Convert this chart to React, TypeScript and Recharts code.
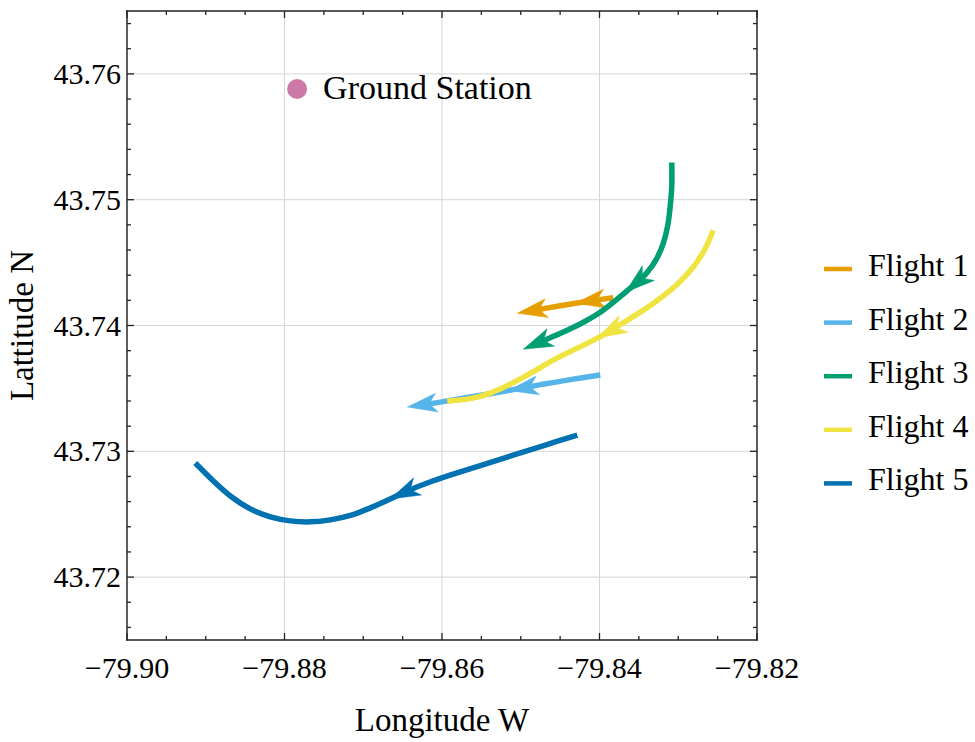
import React from 'react';
import { ScatterChart, Scatter, XAxis, YAxis, CartesianGrid } from 'recharts';

const W = 975;
const H = 742;
const FONT = '"Liberation Serif", "Times New Roman", serif';
const FRAME = '#222222';

// ---------- data ----------
const flightNames = ['Flight 1', 'Flight 2', 'Flight 3', 'Flight 4', 'Flight 5'];
const flightColors = ['#E69F00', '#56B4E9', '#009E73', '#F0E442', '#0072B2'];

const flight1 = [
  { x: -79.83825, y: 43.74221 },
  { x: -79.84053, y: 43.74201 },
  { x: -79.84307, y: 43.74177 },
  { x: -79.84536, y: 43.74153 },
  { x: -79.8479, y: 43.74125 },
  { x: -79.85044, y: 43.74098 },
];
const flight1Arrows = [2, 5];

const flight2 = [
  { x: -79.8399, y: 43.73606 },
  { x: -79.84409, y: 43.73566 },
  { x: -79.84777, y: 43.73526 },
  { x: -79.85158, y: 43.73483 },
  { x: -79.85603, y: 43.73435 },
  { x: -79.86022, y: 43.73391 },
  { x: -79.86441, y: 43.73352 },
];
const flight2Arrows = [3, 6];

const flight3 = [
  { x: -79.83082, y: 43.75296 },
  { x: -79.83082, y: 43.75113 },
  { x: -79.83101, y: 43.74955 },
  { x: -79.83133, y: 43.74796 },
  { x: -79.8319, y: 43.74653 },
  { x: -79.83279, y: 43.74526 },
  { x: -79.83393, y: 43.74423 },
  { x: -79.8352, y: 43.74344 },
  { x: -79.83672, y: 43.74264 },
  { x: -79.83825, y: 43.74185 },
  { x: -79.8399, y: 43.74106 },
  { x: -79.84193, y: 43.7403 },
  { x: -79.84409, y: 43.73963 },
  { x: -79.84625, y: 43.73903 },
  { x: -79.84803, y: 43.73856 },
  { x: -79.84968, y: 43.73812 },
];
const flight3Arrows = [8, 15];

const flight4 = [
  { x: -79.82555, y: 43.74756 },
  { x: -79.82669, y: 43.74598 },
  { x: -79.82822, y: 43.74455 },
  { x: -79.83012, y: 43.74328 },
  { x: -79.83228, y: 43.74217 },
  { x: -79.83482, y: 43.74106 },
  { x: -79.83749, y: 43.74002 },
  { x: -79.84028, y: 43.73899 },
  { x: -79.84307, y: 43.73812 },
  { x: -79.84587, y: 43.73725 },
  { x: -79.84853, y: 43.73629 },
  { x: -79.8512, y: 43.73538 },
  { x: -79.85387, y: 43.73463 },
  { x: -79.85641, y: 43.73419 },
  { x: -79.85933, y: 43.73399 },
];
const flight4Arrows = [7];

const flight5 = [
  { x: -79.84282, y: 43.73129 },
  { x: -79.84688, y: 43.7305 },
  { x: -79.85107, y: 43.72967 },
  { x: -79.85514, y: 43.72887 },
  { x: -79.85869, y: 43.72816 },
  { x: -79.86187, y: 43.72748 },
  { x: -79.86441, y: 43.72685 },
  { x: -79.86657, y: 43.72621 },
  { x: -79.8691, y: 43.7255 },
  { x: -79.87164, y: 43.7249 },
  { x: -79.87418, y: 43.72455 },
  { x: -79.87672, y: 43.72439 },
  { x: -79.87926, y: 43.72447 },
  { x: -79.8818, y: 43.72479 },
  { x: -79.88434, y: 43.72542 },
  { x: -79.88688, y: 43.72645 },
  { x: -79.88917, y: 43.72772 },
  { x: -79.89133, y: 43.72907 },
];
const flight5Arrows = [7];

const groundStation = [{ x: -79.8784, y: 43.7588 }];
const groundStationLabel = 'Ground Station';
const groundStationColor = '#CC79A7';

const xDomain = [-79.9, -79.82];
const yDomain = [43.715, 43.765];
const xMajorTicks = [-79.9, -79.88, -79.86, -79.84, -79.82];
const xMinorTicks = [
  -79.895, -79.89, -79.885, -79.875, -79.87, -79.865, -79.855, -79.85, -79.845, -79.835, -79.83,
  -79.825,
];
const yMajorTicks = [43.72, 43.73, 43.74, 43.75, 43.76];
const yMinorTicks = [
  43.716, 43.718, 43.722, 43.724, 43.726, 43.728, 43.732, 43.734, 43.736, 43.738, 43.742,
  43.744, 43.746, 43.748, 43.752, 43.754, 43.756, 43.758, 43.762, 43.764,
];
const xLabel = 'Longitude W';
const yLabel = 'Lattitude N';

const flightData = [flight1, flight2, flight3, flight4, flight5];
const flightArrows = [flight1Arrows, flight2Arrows, flight3Arrows, flight4Arrows, flight5Arrows];
const flights = flightNames.map((name, i) => ({
  name,
  color: flightColors[i],
  data: flightData[i],
  arrows: flightArrows[i],
}));

const xAllTicks = [...xMajorTicks, ...xMinorTicks].sort((a, b) => a - b);
const yAllTicks = [...yMajorTicks, ...yMinorTicks].sort((a, b) => a - b);

// ---------- helpers ----------
const isMajor = (v: number, arr: number[]) => arr.some((m) => Math.abs(m - v) < 1e-9);
const fmt = (v: number) => v.toFixed(2).replace('-', '\u2212');
const MAJOR_LEN = 7;
const MINOR_LEN = 4;

type Pt = { x: number; y: number };

function smoothPath(pts: Pt[]) {
  if (pts.length < 2) return '';
  let d = `M${pts[0].x},${pts[0].y}`;
  for (let i = 0; i < pts.length - 1; i++) {
    const p0 = pts[i - 1] || pts[i];
    const p1 = pts[i];
    const p2 = pts[i + 1];
    const p3 = pts[i + 2] || p2;
    const c1x = p1.x + (p2.x - p0.x) / 6;
    const c1y = p1.y + (p2.y - p0.y) / 6;
    const c2x = p2.x - (p3.x - p1.x) / 6;
    const c2y = p2.y - (p3.y - p1.y) / 6;
    d += ` C${c1x},${c1y} ${c2x},${c2y} ${p2.x},${p2.y}`;
  }
  return d;
}

function arrowHead(pts: Pt[], i: number) {
  const T = pts[i];
  const a = pts[i - 1] || pts[i];
  const b = pts[i + 1] || pts[i];
  let dx = b.x - a.x;
  let dy = b.y - a.y;
  const len = Math.hypot(dx, dy) || 1;
  dx /= len;
  dy /= len;
  const nx = -dy;
  const ny = dx;
  const L = 30;
  const Wd = 9.5;
  const N = 22;
  const poly = [
    [T.x, T.y],
    [T.x - L * dx + Wd * nx, T.y - L * dy + Wd * ny],
    [T.x - N * dx, T.y - N * dy],
    [T.x - L * dx - Wd * nx, T.y - L * dy - Wd * ny],
  ]
    .map((p) => p.join(','))
    .join(' ');
  const neck = { x: T.x - 19 * dx, y: T.y - 19 * dy };
  return { poly, neck };
}

function renderFlightLine(points: Pt[], arrows: number[], color: string) {
  const pts = (points || []).map((p) => ({ x: p.x, y: p.y }));
  const n = pts.length;
  if (n < 2) return <g />;
  const heads = arrows.filter((i) => i < n).map((i) => ({ i, ...arrowHead(pts, i) }));
  const pathPts = pts.slice();
  heads.forEach((h) => {
    if (h.i === n - 1) pathPts[n - 1] = h.neck;
  });
  return (
    <g>
      <path
        d={smoothPath(pathPts)}
        fill="none"
        stroke={color}
        strokeWidth={5.5}
        strokeLinecap="butt"
        strokeLinejoin="round"
      />
      {heads.map((h) => (
        <polygon key={h.i} points={h.poly} fill={color} stroke={color} strokeWidth={0.5} />
      ))}
    </g>
  );
}

const hiddenPoint = () => <g />;

// ticks
const bottomTick = (p: any) => {
  const { x, y, payload } = p;
  const major = isMajor(payload.value, xMajorTicks);
  return (
    <g>
      <line x1={x} x2={x} y1={y} y2={y - (major ? MAJOR_LEN : MINOR_LEN)} stroke={FRAME} strokeWidth={1.3} />
      {major && (
        <text x={x} y={y + 38} textAnchor="middle" fontFamily={FONT} fontSize={30} fill="#000">
          {fmt(payload.value)}
        </text>
      )}
    </g>
  );
};
const topTick = (p: any) => {
  const { x, y, payload } = p;
  const major = isMajor(payload.value, xMajorTicks);
  return (
    <g>
      <line x1={x} x2={x} y1={y} y2={y + (major ? MAJOR_LEN : MINOR_LEN)} stroke={FRAME} strokeWidth={1.3} />
    </g>
  );
};
const leftTick = (p: any) => {
  const { x, y, payload } = p;
  const major = isMajor(payload.value, yMajorTicks);
  return (
    <g>
      <line x1={x} x2={x + (major ? MAJOR_LEN : MINOR_LEN)} y1={y} y2={y} stroke={FRAME} strokeWidth={1.3} />
      {major && (
        <text x={x - 6} y={y + 10} textAnchor="end" fontFamily={FONT} fontSize={30} fill="#000">
          {payload.value.toFixed(2)}
        </text>
      )}
    </g>
  );
};
const rightTick = (p: any) => {
  const { x, y, payload } = p;
  const major = isMajor(payload.value, yMajorTicks);
  return (
    <g>
      <line x1={x} x2={x - (major ? MAJOR_LEN : MINOR_LEN)} y1={y} y2={y} stroke={FRAME} strokeWidth={1.3} />
    </g>
  );
};

const XTitle = (props: any) => {
  const vb = props.viewBox || { x: 127, y: 640, width: 630, height: 1 };
  const cx = vb.x + vb.width / 2;
  return (
    <text x={cx} y={vb.y + 91} textAnchor="middle" fontFamily={FONT} fontSize={33} fill="#000">
      {xLabel}
    </text>
  );
};
const YTitle = (props: any) => {
  const vb = props.viewBox || { x: 126, y: 11, width: 1, height: 629 };
  const cx = vb.x + vb.width - 94;
  const cy = vb.y + vb.height / 2;
  return (
    <text
      x={cx}
      y={cy}
      transform={`rotate(-90 ${cx} ${cy})`}
      textAnchor="middle"
      fontFamily={FONT}
      fontSize={33}
      fill="#000"
    >
      {yLabel}
    </text>
  );
};

const groundShape = (p: any) => (
  <g>
    <circle cx={p.cx} cy={p.cy} r={10} fill={groundStationColor} />
    <text x={p.cx + 26} y={p.cy + 10} fontFamily={FONT} fontSize={34} fill="#000">
      {groundStationLabel}
    </text>
  </g>
);

const axisLine = { stroke: FRAME, strokeWidth: 1.4, strokeLinecap: 'square' as const };

export default function App() {
  return (
    <div style={{ position: 'absolute', left: 0, top: 0, width: W, height: H, background: '#fff' }}>
      <ScatterChart width={W} height={H} margin={{ top: 10, right: 217, bottom: 101, left: 126 }}>
        <CartesianGrid
          stroke="#d6d6d6"
          strokeWidth={1}
          verticalValues={xMajorTicks}
          horizontalValues={yMajorTicks}
        />
        <XAxis
          dataKey="x"
          type="number"
          orientation="bottom"
          domain={xDomain}
          allowDataOverflow
          ticks={xAllTicks}
          interval={0}
          height={1}
          tickSize={0}
          tickMargin={0}
          tickLine={false}
          axisLine={axisLine}
          tick={bottomTick}
          label={<XTitle />}
        />
        <XAxis
          xAxisId="top"
          dataKey="x"
          type="number"
          orientation="top"
          domain={xDomain}
          allowDataOverflow
          ticks={xAllTicks}
          interval={0}
          height={1}
          tickSize={0}
          tickMargin={0}
          tickLine={false}
          axisLine={axisLine}
          tick={topTick}
        />
        <YAxis
          dataKey="y"
          type="number"
          orientation="left"
          domain={yDomain}
          allowDataOverflow
          ticks={yAllTicks}
          interval={0}
          width={1}
          tickSize={0}
          tickMargin={0}
          tickLine={false}
          axisLine={axisLine}
          tick={leftTick}
          label={<YTitle />}
        />
        <YAxis
          yAxisId="right"
          dataKey="y"
          type="number"
          orientation="right"
          domain={yDomain}
          allowDataOverflow
          ticks={yAllTicks}
          interval={0}
          width={1}
          tickSize={0}
          tickMargin={0}
          tickLine={false}
          axisLine={axisLine}
          tick={rightTick}
        />
        {flights.map((f) => (
          <Scatter
            key={f.name}
            name={f.name}
            data={f.data}
            fill={f.color}
            isAnimationActive={false}
            shape={hiddenPoint}
            line={(lp: any) => renderFlightLine(lp.points, f.arrows, f.color)}
          />
        ))}
        <Scatter
          name={groundStationLabel}
          data={groundStation}
          fill={groundStationColor}
          isAnimationActive={false}
          shape={groundShape}
        />
      </ScatterChart>
      <svg
        width={W}
        height={H}
        style={{ position: 'absolute', left: 0, top: 0, pointerEvents: 'none' }}
      >
        {flights.map((f, i) => {
          const y = 269 + i * 53.6;
          return (
            <g key={f.name}>
              <line x1={824} x2={852} y1={y} y2={y} stroke={f.color} strokeWidth={4.5} />
              <text x={868} y={y + 7} fontFamily={FONT} fontSize={32} fill="#000">
                {f.name}
              </text>
            </g>
          );
        })}
      </svg>
    </div>
  );
}
